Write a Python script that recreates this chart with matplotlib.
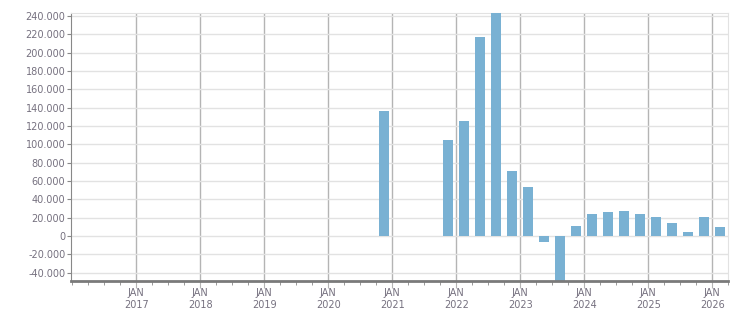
import matplotlib
matplotlib.use("Agg")
import matplotlib.pyplot as plt
import matplotlib.dates as mdates
import matplotlib.ticker as mticker
import pandas as pd

# quarterly values
quarters = ["2020Q4", "2021Q4", "2022Q1", "2022Q2", "2022Q3", "2022Q4",
            "2023Q1", "2023Q2", "2023Q3", "2023Q4", "2024Q1", "2024Q2",
            "2024Q3", "2024Q4", "2025Q1", "2025Q2", "2025Q3", "2025Q4",
            "2026Q1"]
values = [136800, 105000, 125800, 217500, 243000, 71000,
          53600, -6500, -52000, 10900, 24000, 26200,
          27300, 24000, 20800, 14200, 4400, 20800,
          9800]
tick_years = [2017, 2018, 2019, 2020, 2021, 2022, 2023, 2024, 2025, 2026]

bar_color = "#79b1d3"
text_color = "#75707f"


def format_thousands(v, pos):
    return "{:,.0f}".format(v).replace(",", ".")


periods = pd.PeriodIndex(quarters, freq="Q")
mid_dates = periods.start_time + (periods.end_time - periods.start_time) / 2

fig = plt.figure(figsize=(7.51, 3.13), dpi=100)
ax = fig.add_axes([0.0945, 0.102, 0.8749, 0.856])

ax.bar(mid_dates, values, width=57, color=bar_color, zorder=3)

ax.set_xlim(pd.Timestamp("2015-12-25"), pd.Timestamp("2026-04-01"))
ax.set_ylim(-49000, 243000)

# y axis
ax.yaxis.set_major_locator(mticker.MultipleLocator(20000))
ax.yaxis.set_major_formatter(mticker.FuncFormatter(format_thousands))
ax.grid(axis="y", color="#e2e2e2", linewidth=1, zorder=0)

# x axis: major at january, minor every quarter
ax.set_xticks([pd.Timestamp(f"{y}-01-01") for y in tick_years])
ax.set_xticklabels([f"JAN\n{y}" for y in tick_years], linespacing=1.25)
ax.xaxis.set_minor_locator(mdates.MonthLocator(bymonth=[1, 4, 7, 10]))
ax.grid(axis="x", which="major", color="#b4b4b4", linewidth=1, zorder=1)

ax.tick_params(axis="both", labelsize=7, labelcolor=text_color)
ax.tick_params(axis="y", length=3, color="#888888", pad=1)
ax.tick_params(axis="x", which="major", length=5, color="#b4b4b4", pad=0)
ax.tick_params(axis="x", which="minor", length=3, color="#888888")

for side in ["top", "right"]:
    ax.spines[side].set_color("#e2e2e2")
ax.spines["left"].set_color("#888888")
ax.spines["bottom"].set_color("#7a7a7a")
ax.spines["bottom"].set_linewidth(2)
ax.spines["bottom"].set_zorder(4)

fig.savefig("out.png", dpi=100)
